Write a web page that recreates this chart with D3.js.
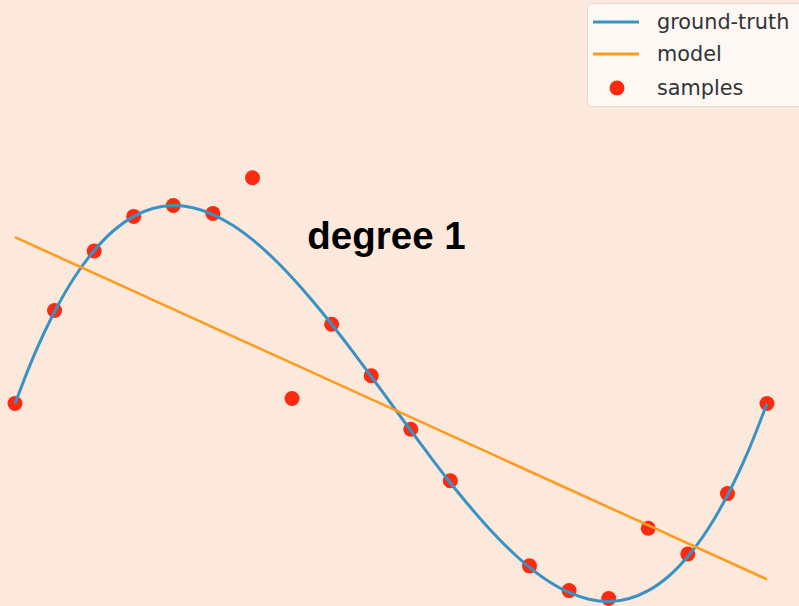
<!DOCTYPE html>
<html>
<head>
<meta charset="utf-8">
<script src="https://cdn.jsdelivr.net/npm/d3@7/dist/d3.min.js"></script>
<style>
html, body { margin: 0; padding: 0; background: #fce9dc; }
svg { display: block; }
</style>
</head>
<body>
<svg id="chart" width="799" height="606"></svg>
<script>
// ground-truth curve (x in [0,1], y normalised)
const truthX = [0, .0263, .0526, .0789, .1053, .1316, .1579, .1842, .2105, .2368, .2632, .2895, .3158, .3421, .3684, .3947, .4211, .4474, .4737, .5,
  .5263, .5526, .5789, .6053, .6316, .6579, .6842, .7105, .7368, .7632, .7895, .8158, .8421, .8684, .8947, .9211, .9474, .9737, 1];
const truthY = [0, .2523, .4636, .6364, .7727, .875, .9454, .9863, 1.0, .9886, .9545, .9, .8273, .7386, .6364, .5227, .4, .2705, .1364, 0,
  -.1364, -.2705, -.4, -.5227, -.6364, -.7386, -.8273, -.9, -.9545, -.9886, -1.0, -.9863, -.9454, -.875, -.7727, -.6364, -.4636, -.2523, 0];

// noisy samples
const sampleX = [0, .0526, .1053, .1579, .2105, .2632, .3158, .3684, .4211, .4737, .5263, .5789, .6842, .7368, .7895, .8421, .8947, .9474, 1];
const sampleY = [0, .47, .77, .945, 1.0, .96, 1.14, .025, .40, .14, -.13, -.39, -.82, -.945, -.985, -.63, -.76, -.455, 0];

// degree-1 model
const modelX = [0, 1];
const modelY = [0.84, -0.888];

const legendLabels = ["ground-truth", "model", "samples"];
const titleText = "degree 1";

const colors = { truth: "#3a92c4", model: "#ff9b1f", samples: "#fb2a10" };

const svg = d3.select("#chart");
const W = 799, H = 606;

svg.append("rect").attr("width", W).attr("height", H).attr("fill", "#fce9dc");

const x = d3.scaleLinear().domain([0, 1]).range([15, 767]);
const y = d3.scaleLinear().domain([-1, 1]).range([601.5, 205.5]);

// samples
svg.append("g").selectAll("circle")
  .data(sampleX.map((d, i) => [d, sampleY[i]]))
  .join("circle")
  .attr("cx", d => x(d[0]))
  .attr("cy", d => y(d[1]))
  .attr("r", 7.5)
  .attr("fill", colors.samples);

// ground truth
const line = d3.line().x(d => x(d[0])).y(d => y(d[1])).curve(d3.curveCatmullRom.alpha(0.5));
svg.append("path")
  .datum(truthX.map((d, i) => [d, truthY[i]]))
  .attr("d", line)
  .attr("fill", "none")
  .attr("stroke", colors.truth)
  .attr("stroke-width", 3);

// model
svg.append("path")
  .datum(modelX.map((d, i) => [d, modelY[i]]))
  .attr("d", d3.line().x(d => x(d[0])).y(d => y(d[1])))
  .attr("fill", "none")
  .attr("stroke", colors.model)
  .attr("stroke-width", 2.6);

// title
svg.append("text")
  .attr("x", 386.5)
  .attr("y", 249)
  .attr("text-anchor", "middle")
  .attr("font-family", "'Liberation Sans', Arial, Helvetica, sans-serif")
  .attr("font-weight", "bold")
  .attr("font-size", 38.5)
  .attr("fill", "#000")
  .text(titleText);

// legend
const lg = svg.append("g");
lg.append("rect")
  .attr("x", 587.5).attr("y", 3.5)
  .attr("width", 240).attr("height", 103)
  .attr("rx", 4)
  .attr("fill", "#fdf8f4")
  .attr("stroke", "#e2dad4")
  .attr("stroke-width", 1);

const rows = [22, 54, 88];
lg.append("line").attr("x1", 593).attr("x2", 639).attr("y1", rows[0]).attr("y2", rows[0])
  .attr("stroke", colors.truth).attr("stroke-width", 3);
lg.append("line").attr("x1", 593).attr("x2", 639).attr("y1", rows[1]).attr("y2", rows[1])
  .attr("stroke", colors.model).attr("stroke-width", 3);
lg.append("circle").attr("cx", 617).attr("cy", rows[2]).attr("r", 7.5).attr("fill", colors.samples);

lg.selectAll("text.lbl")
  .data(legendLabels)
  .join("text")
  .attr("class", "lbl")
  .attr("x", 657)
  .attr("y", (d, i) => rows[i] + 7)
  .attr("font-family", "'DejaVu Sans', sans-serif")
  .attr("font-size", 20.8)
  .attr("fill", "#333")
  .text(d => d);
</script>
</body>
</html>
